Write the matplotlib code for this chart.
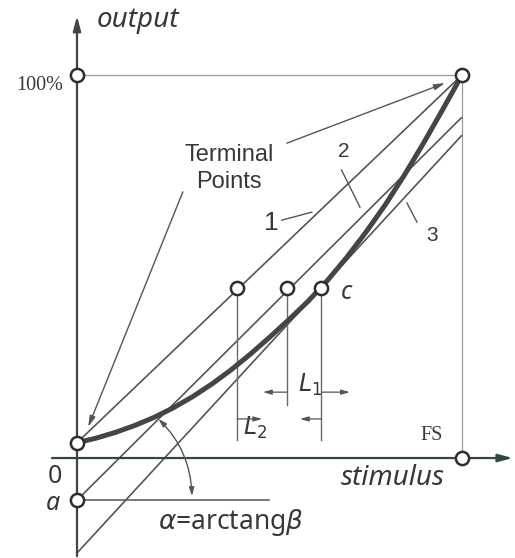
import matplotlib
matplotlib.use("Agg")
import matplotlib.pyplot as plt
from matplotlib.patches import FancyArrowPatch
import numpy as np

# ---- values: stimulus in % of full scale, output in % ----
curve_x = [0, 5, 10, 15, 20, 25, 30, 35, 40, 45, 50, 55, 60, 65, 70, 75, 80, 85, 90, 95, 100]
curve_y = [4, 5.2, 6.7, 8.5, 10.6, 13.1, 16.0, 19.3, 23.0, 27.1, 31.5, 36.1, 40.9, 46.3,
           52.3, 58.9, 66, 73.8, 82.2, 91, 100]

# straight approximations: (start x, start y, end x, end y)
line_names = ["1", "2", "3"]
line_x0 = [0, 0, 0]
line_y0 = [4, -11, -24.8]
line_x1 = [100, 100, 100]
line_y1 = [100, 89, 84.3]

# marked points on the approximations at the same output level
mark_x = [41.6, 54.5, 63.5]
mark_y = [44.5, 44.5, 44.5]
mark_drop = [4.7, 13.8, 4.7]     # lower end of the projection lines

offset_a = -11
full_scale = 100
out_full = 100
start_out = 4

GRAY = "#555555"
TEXT = "#383838"

plt.rcParams["mathtext.fontset"] = "dejavusans"

fig = plt.figure(figsize=(5.15, 5.58), dpi=100)
ax = fig.add_axes([0, 0, 1, 1])
ax.set_xlim(-20, 113.77)
ax.set_ylim(-26.1, 119.58)
ax.axis("off")

sans = ["Noto Sans", "DejaVu Sans"]
arial = ["Liberation Sans", "DejaVu Sans"]
serif = ["Liberation Serif", "DejaVu Serif"]

def arrow(p0, p1, lw=1.0, color=GRAY, hl=7, hw=2.2, style="-|>"):
    a = FancyArrowPatch(p0, p1, arrowstyle=f"{style},head_length={hl/1.389:.2f},head_width={hw/1.389:.2f}",
                        mutation_scale=1, lw=lw, color=color, shrinkA=0, shrinkB=0,
                        zorder=4)
    ax.add_patch(a)

# axes
arrow((0, -25.6), (0, 115.4), lw=1.6, color="#3f4742", hl=12, hw=3.2)
arrow((-6.5, 0), (113.2, 0), lw=1.6, color="#2f4a3b", hl=12, hw=3.2)

# full-scale reference lines
ax.plot([0, full_scale], [out_full, out_full], color="#9a9a9a", lw=0.9, zorder=2)
ax.plot([full_scale, full_scale], [0, out_full], color="#9a9a9a", lw=0.9, zorder=2)

# straight-line approximations
for x0, y0, x1, y1 in zip(line_x0, line_y0, line_x1, line_y1):
    ax.plot([x0, x1], [y0, y1], color=GRAY, lw=1.2, zorder=3, solid_capstyle="butt")

# offset level a
ax.plot([0, 50], [offset_a, offset_a], color=GRAY, lw=1.1, zorder=3)

# transfer function
ax.plot(curve_x, curve_y, color="#454545", lw=3.6, zorder=5, solid_capstyle="round",
        solid_joinstyle="round")

# projection lines from the marked points
for mx, my, md in zip(mark_x, mark_y, mark_drop):
    ax.plot([mx, mx], [my, md], color="#6a6a6a", lw=1.0, zorder=3)

# dimension arrows
L1_y, L2_y = 17.2, 10.2
arrow((54.5, L1_y), (48.3, L1_y), lw=0.9, hl=7, hw=2.0)
arrow((63.5, L1_y), (70.9, L1_y), lw=0.9, hl=7, hw=2.0)
arrow((41.6, L2_y), (48.1, L2_y), lw=0.9, hl=7, hw=2.0)
arrow((63.5, L2_y), (57.9, L2_y), lw=0.9, hl=7, hw=2.0)

# angle arc between line 2 and the offset level
r_px = 115
ang_top = np.deg2rad(45)
ang_bot = np.deg2rad(2)
pa = (r_px * np.cos(ang_top) / 3.85, offset_a + r_px * np.sin(ang_top) / 3.83)
pb = (r_px * np.cos(ang_bot) / 3.85, offset_a + r_px * np.sin(ang_bot) / 3.83)
arc = FancyArrowPatch(pa, pb, connectionstyle="arc3,rad=-0.2",
                      arrowstyle="<|-|>,head_length=5,head_width=1.5",
                      mutation_scale=1, lw=1.0, color=GRAY, shrinkA=0, shrinkB=0, zorder=4)
ax.add_patch(arc)

# terminal point pointers
arrow((27.5, 69.5), (2.9, 8.1), lw=1.0, hl=9, hw=2.4)
arrow((54.5, 82.2), (95.6, 97.9), lw=1.0, hl=9, hw=2.4)

# leaders for line numbers
ax.plot([53.2, 61.0], [62.1, 64.2], color=GRAY, lw=1.0, zorder=3)
ax.plot([68.7, 73.5], [75.2, 65.5], color=GRAY, lw=1.0, zorder=3)
ax.plot([85.7, 88.3], [66.6, 61.6], color=GRAY, lw=1.0, zorder=3)

# circles
circ = dict(marker="o", ms=9.5, mfc="white", mec="#2e2e2e", mew=1.8, ls="none", zorder=7)
ax.plot([0, full_scale, 0, full_scale, 0], [start_out, out_full, out_full, 0, offset_a], **circ)
ax.plot(mark_x, mark_y, **circ)

# labels
ax.text(15.8, 114.4, "output", family=sans, style="italic", fontsize=20, color=TEXT,
        ha="center", va="center")
ax.text(82.1, -5.2, "stimulus", family=sans, style="italic", fontsize=20, color=TEXT,
        ha="center", va="center")
ax.text(-3.5, 97.2, "100%", family=serif, fontsize=14.5, color=TEXT, ha="right", va="center")
ax.text(92.2, 6.0, "FS", family=serif, fontsize=14.5, color=TEXT, ha="center", va="center")
ax.text(-5.7, -4.7, "0", family=sans, fontsize=18, color=TEXT, ha="center", va="center")
ax.text(-6.2, -11.8, "a", family=sans, style="italic", fontsize=18, color=TEXT,
        ha="center", va="center")
ax.text(69.9, 43.3, "c", family=sans, style="italic", fontsize=18, color=TEXT,
        ha="center", va="center")
ax.text(39.5, 75.7, "Terminal\nPoints", family=arial, fontsize=17, color=TEXT,
        ha="center", va="center", linespacing=1.3)
ax.text(50.4, 61.4, "1", family=arial, fontsize=19, color=TEXT, ha="center", va="center")
ax.text(69.4, 79.9, "2", family=arial, fontsize=15, color=TEXT, ha="center", va="center")
ax.text(92.2, 58.2, "3", family=arial, fontsize=15, color=TEXT, ha="center", va="center")

ax.text(60.5, 19.1, r"$L_1$", fontsize=17, color=TEXT, ha="center", va="center")
ax.text(46.2, 7.8, r"$L_2$", fontsize=17, color=TEXT, ha="center", va="center")
ax.text(40, -16.9, r"$\alpha$=arctang$\beta$", family=sans, fontsize=19, color=TEXT,
        ha="center", va="center")

fig.savefig("out.png", dpi=100, facecolor="white")
